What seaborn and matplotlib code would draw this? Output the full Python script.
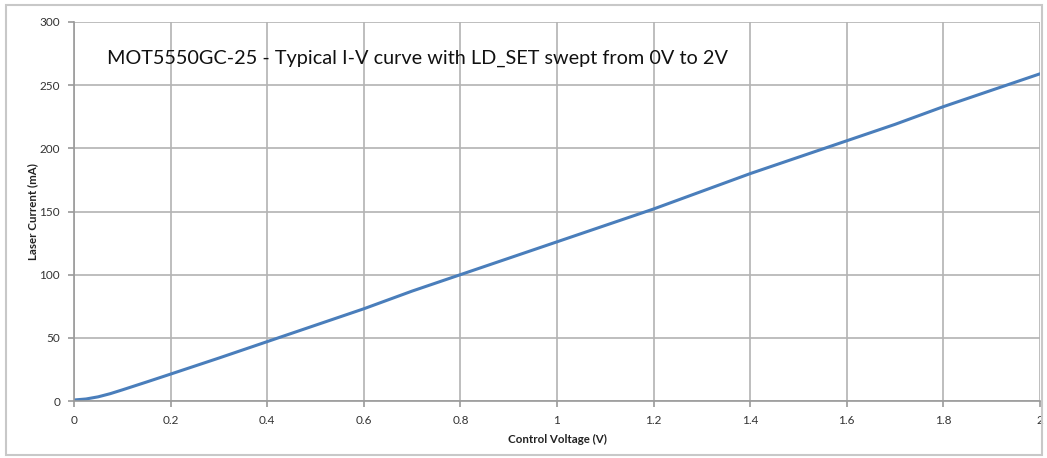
import matplotlib
matplotlib.use("Agg")
import matplotlib.pyplot as plt
import seaborn as sns
import pandas as pd
from matplotlib.patches import Rectangle

voltage = [0.0, 0.025, 0.05, 0.075, 0.1, 0.15, 0.2, 0.3, 0.4, 0.5, 0.6, 0.7, 0.8, 0.9, 1.0,
           1.1, 1.2, 1.3, 1.4, 1.5, 1.6, 1.7, 1.8, 1.9, 2.0]
current = [0.8, 1.6, 3.3, 5.8, 8.8, 15, 21.3, 34, 47, 60, 73, 87, 100, 113, 126,
           139, 152, 166, 180, 193, 206, 219, 233, 246, 259]
x_ticks = [0, 0.2, 0.4, 0.6, 0.8, 1.0, 1.2, 1.4, 1.6, 1.8, 2.0]
x_labels = ["0", "0.2", "0.4", "0.6", "0.8", "1", "1.2", "1.4", "1.6", "1.8", "2"]
y_ticks = [0, 50, 100, 150, 200, 250, 300]

title = "MOT5550GC-25 - Typical I-V curve with LD_SET swept from 0V to 2V"

sns.set_theme(style="white")
plt.rcParams['font.family'] = ['Lato', 'DejaVu Sans']

df = pd.DataFrame({"Control Voltage (V)": voltage, "Laser Current (mA)": current})

fig = plt.figure(figsize=(10.47, 4.58), dpi=100)
ax = fig.add_axes([74/1047, 57/458, (1040-74)/1047, (401-22)/458])

fig.patches.append(Rectangle((6/1047, 3/458), 1036/1047, 450/458, transform=fig.transFigure,
                             fill=False, edgecolor="#c8c8c8", linewidth=1.5))

sns.lineplot(data=df, x="Control Voltage (V)", y="Laser Current (mA)", ax=ax,
             color="#4a7ebb", linewidth=2.2)

ax.set_xlim(0, 2)
ax.set_ylim(0, 300)
ax.set_xticks(x_ticks)
ax.set_xticklabels(x_labels)
ax.set_yticks(y_ticks)
ax.grid(True, color="#b3b3b3", linewidth=1.2)
ax.set_axisbelow(True)
for s in ["top", "right"]:
    ax.spines[s].set_visible(False)
for s in ["left", "bottom"]:
    ax.spines[s].set_color("#9a9a9a")
    ax.spines[s].set_linewidth(1.2)
ax.tick_params(axis="both", which="both", direction="out", length=4, width=1.2,
               color="#9a9a9a", labelsize=8.5, labelcolor="#333333", bottom=True, left=True, pad=6)

ax.set_xlabel("Control Voltage (V)", fontsize=8.3, fontweight="bold", color="#222222", labelpad=6)
ax.set_ylabel("Laser Current (mA)", fontsize=8.3, fontweight="bold", color="#222222", labelpad=1)

ax.text(0.034, 0.905, title, transform=ax.transAxes, fontsize=14.3, color="#111111",
        ha="left", va="center")

fig.savefig("out.png", dpi=100)
